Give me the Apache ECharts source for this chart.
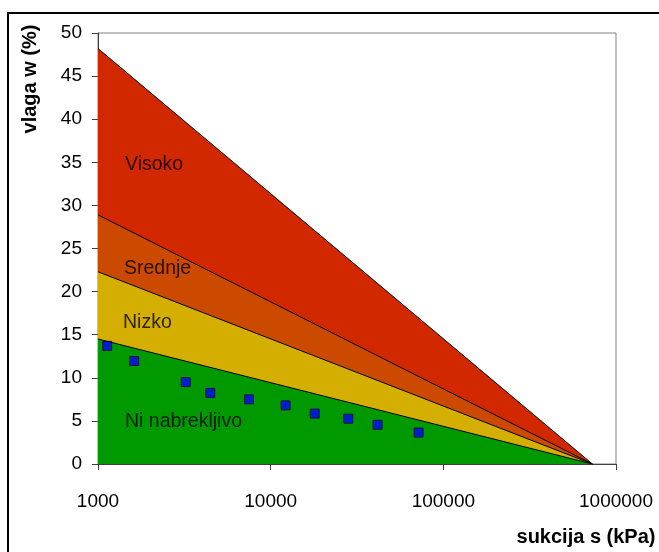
<!DOCTYPE html>
<html><head><meta charset="utf-8">
<script src="https://cdn.jsdelivr.net/npm/echarts@6/dist/echarts.min.js"></script>
<style>html,body{margin:0;padding:0;background:#fff}#c{width:659px;height:552px}</style>
</head><body><div id="c"></div>
<script>
// zone boundary lines: value at s=1000 kPa, all reaching 0 at the same suction
const zoneNames = ['Visoko', 'Srednje', 'Nizko', 'Ni nabrekljivo'];
const zoneStartW = [48.2, 28.9, 22.3, 14.5];
const zoneStartS = 1000;
const zoneEndS = 730000;
const zoneColors = ['#D22800', '#CC4A00', '#D4AE00', '#009900'];
// zone label anchors [s, w]
const labelS = [1433, 1414, 1395, 1433];
const labelW = [34.7, 22.7, 16.4, 4.9];
// measured points
const pointS = [1130, 1620, 3220, 4470, 7490, 12200, 18000, 28150, 41600, 71900];
const pointW = [13.7, 11.95, 9.5, 8.25, 7.5, 6.8, 5.85, 5.25, 4.55, 3.65];
const xTicks = [1000, 10000, 100000, 1000000];

const series = [];
zoneNames.forEach((n, i) => {
  series.push({
    type: 'line', name: n,
    data: [[zoneStartS, zoneStartW[i]], [zoneEndS, 0]],
    symbol: 'none', silent: true,
    lineStyle: { color: '#000', width: 1 },
    areaStyle: { color: zoneColors[i], opacity: 1 },
    z: 2 + i
  });
});
series.push({
  type: 'scatter',
  data: pointS.map((s, i) => [s, pointW[i]]),
  symbol: 'rect', symbolSize: 9,
  itemStyle: { color: '#0000FF', borderColor: '#000033', borderWidth: 1 },
  z: 10
});
series.push({
  type: 'scatter',
  data: labelS.map((s, i) => ({ value: [s, labelW[i]], name: zoneNames[i] })),
  symbolSize: 0,
  label: { show: true, position: 'right', distance: 0, formatter: p => p.name,
    color: '#000', fontSize: 19.5, fontFamily: 'Liberation Sans, Arial, sans-serif' },
  z: 11
});

const chart = echarts.init(document.getElementById('c'), null, { renderer: 'canvas' });
chart.setOption({
  animation: false,
  backgroundColor: '#fff',
  grid: { left: 98, right: 43, top: 33, bottom: 88, show: true, borderColor: '#808080', borderWidth: 1, backgroundColor: 'transparent' },
  xAxis: {
    type: 'log', logBase: 10, min: 1000, max: 1000000,
    axisLine: { show: true, onZero: false, lineStyle: { color: '#404040', width: 1 } },
    axisTick: { show: true, length: 6, lineStyle: { color: '#404040' } },
    minorTick: { show: false },
    splitLine: { show: false },
    axisLabel: { margin: 28, color: '#000', fontSize: 19, fontFamily: 'Liberation Sans, Arial, sans-serif',
      formatter: v => String(Math.round(v)) }
  },
  yAxis: {
    type: 'value', min: 0, max: 50, interval: 5,
    axisLine: { show: true, lineStyle: { color: '#404040', width: 1 } },
    axisTick: { show: true, length: 6, lineStyle: { color: '#404040' } },
    splitLine: { show: false },
    axisLabel: { margin: 16, color: '#000', fontSize: 19, fontFamily: 'Liberation Sans, Arial, sans-serif' }
  },
  graphic: [
    { type: 'rect', shape: { x: 8, y: 13, width: 700, height: 600 }, style: { fill: null, stroke: '#000', lineWidth: 2 }, z: 100 },
    { type: 'text', x: 30, y: 79, rotation: Math.PI / 2,
      style: { text: 'vlaga w (%)', fontSize: 20, fontWeight: 'bold', fontFamily: 'Liberation Sans, Arial, sans-serif', fill: '#000', align: 'center', verticalAlign: 'middle' } },
    { type: 'text', x: 586, y: 537,
      style: { text: 'sukcija s (kPa)', fontSize: 20, fontWeight: 'bold', fontFamily: 'Liberation Sans, Arial, sans-serif', fill: '#000', align: 'center', verticalAlign: 'middle' } }
  ],
  series: series
});
</script></body></html>
